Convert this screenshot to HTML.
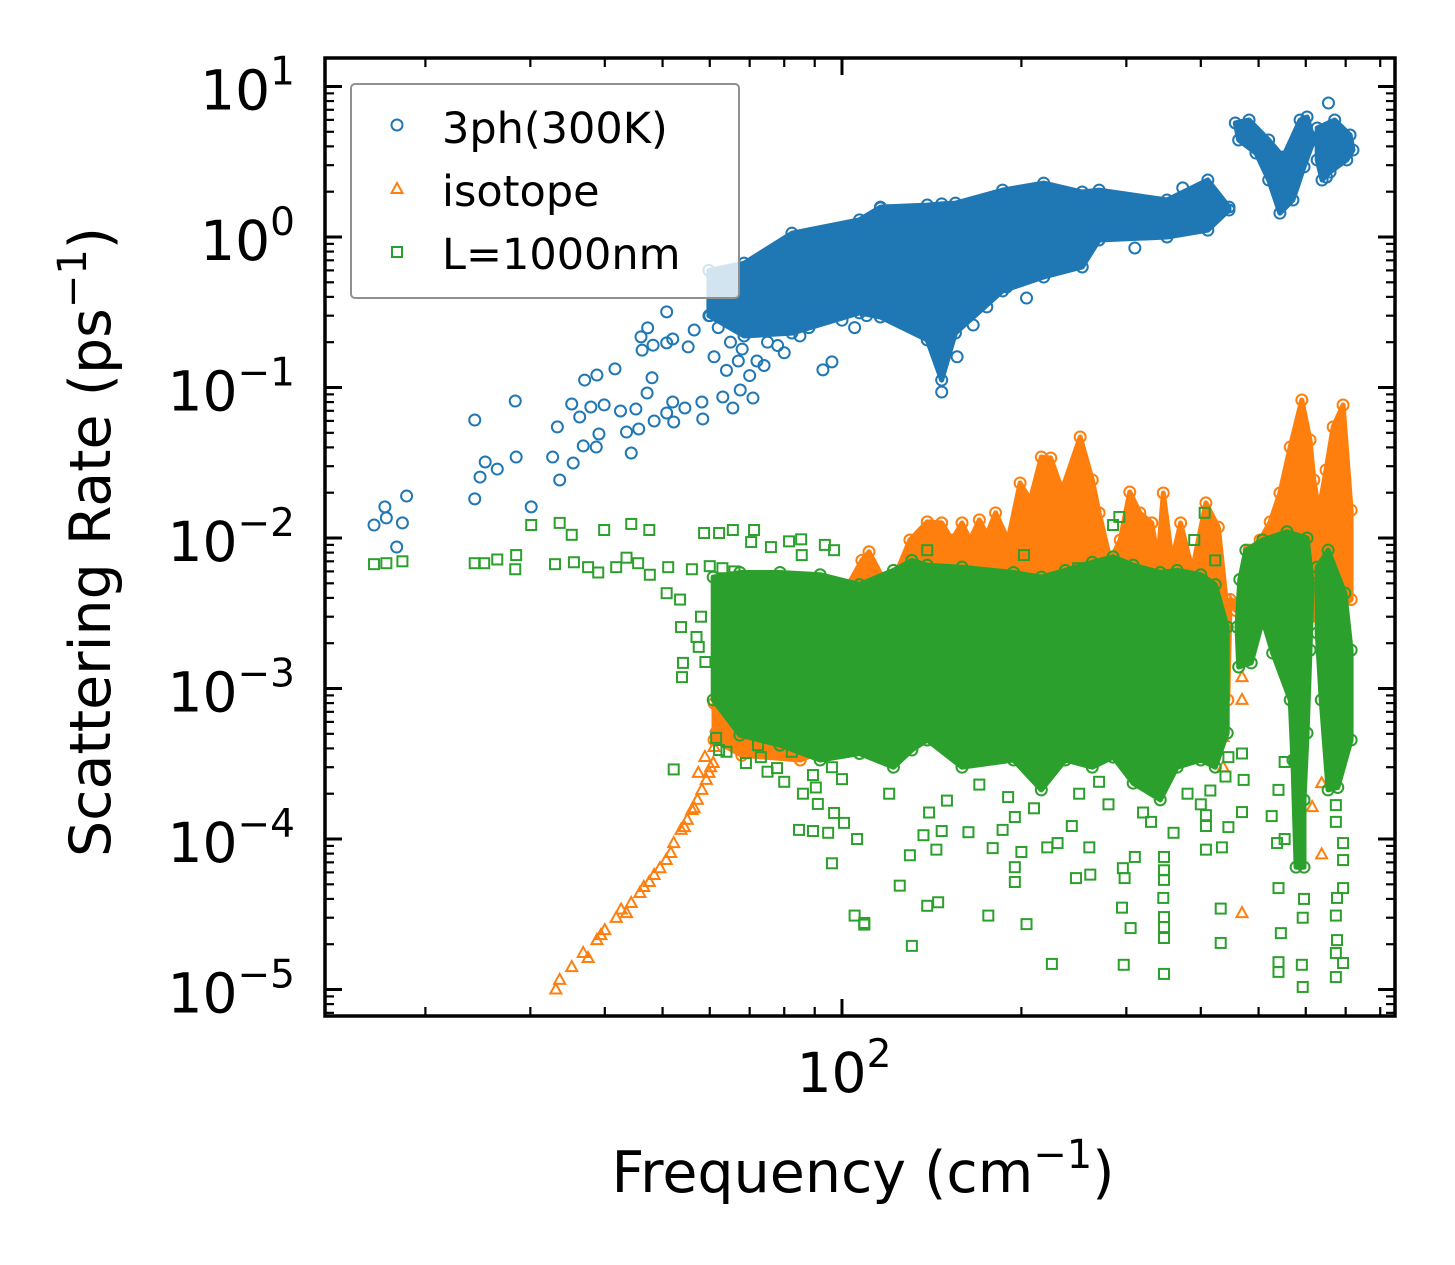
<!DOCTYPE html>
<html><head><meta charset="utf-8">
<style>
html,body{margin:0;padding:0;background:#fff;}
svg{display:block;}
text{font-family:"DejaVu Sans","Liberation Sans",sans-serif;fill:#000;}
</style></head>
<body>
<svg id="chart" width="1455" height="1265" viewBox="0 0 1455 1265" xmlns="http://www.w3.org/2000/svg">
<rect x="0" y="0" width="1455" height="1265" fill="#fff"/>
<g id="data-layer"></g>
<g id="axes-layer"></g>
<g id="legend">
  <rect x="351" y="84" width="388" height="214" rx="4" fill="rgba(255,255,255,0.8)" stroke="#909090" stroke-width="2"/>
  <circle cx="397" cy="125" r="5.5" fill="none" stroke="#1f77b4" stroke-width="2"/>
  <text x="442" y="143" font-size="43">3ph(300K)</text>
  <polygon points="397,183 402.5,193 391.5,193" fill="none" stroke="#ff7f0e" stroke-width="2"/>
  <text x="442" y="206" font-size="43">isotope</text>
  <rect x="392" y="247" width="10" height="10" fill="none" stroke="#2ca02c" stroke-width="2"/>
  <text x="442" y="269" font-size="43">L=1000nm</text>
</g>
<text x="863" y="1192" font-size="57" text-anchor="middle">Frequency (cm<tspan dy="-24" font-size="40">−1</tspan><tspan dy="24">)</tspan></text>
<text transform="translate(110,542) rotate(-90)" font-size="57" text-anchor="middle">Scattering Rate (ps<tspan dy="-24" font-size="40">−1</tspan><tspan dy="24">)</tspan></text>
</svg>
<script>
// ---- data ----
const xDomain = [13.57, 847];
const yDomain = [6.67e-6, 15.46];
const yTickExps = [1, 0, -1, -2, -3, -4, -5];
const xTickExps = [2];

// 3-phonon dense region envelope
const phBandFreq = [59.8, 68.5, 82.4, 107, 116, 139, 147, 155, 186, 218, 253, 270, 351, 411, 446];
const phBandHi = [0.60, 0.67, 1.06, 1.30, 1.58, 1.63, 1.66, 1.68, 2.05, 2.28, 1.99, 2.05, 1.76, 2.39, 1.58];
const phBandLo = [0.30, 0.22, 0.23, 0.313, 0.294, 0.207, 0.112, 0.230, 0.438, 0.542, 0.632, 0.955, 1.0, 1.11, 1.51];
// optical clusters
const phClusterAFreq = [457, 482, 520, 550, 587, 603, 619, 596, 571, 543, 520, 495, 463];
const phClusterARate = [5.72, 5.99, 4.41, 3.40, 5.99, 6.27, 4.41, 2.92, 1.76, 1.44, 2.39, 3.61, 4.41];
const phClusterBFreq = [627, 671, 712, 720, 703, 659, 639, 627];
const phClusterBRate = [5.30, 5.99, 4.76, 3.78, 3.25, 2.70, 2.39, 3.25];
// individual 3ph points
const phFreq = [16.4,17.2,17.1,18.3,18.6,17.9,24.2,24.7,25.2,26.4,24.2,28.3,28.4,30.1,32.7,33.6,33.3,35.4,36.8,38.7,39.1,35.2,36.3,37.9,39.9,42.5,43.5,44.3,45.1,45.6,48.4,37.0,38.8,41.6,46.0,47.2,46.2,48.2,47.1,48.0,50.8,52.0,52.2,54.5,58.2,58.4,50.8,52.0,50.8,55.2,56.5,65.6,70.9,63.1,92.9,96.2,67.5,147,156,166,175,189,204,310,373,136,143,116,655,650,60,62,65,68,72,75,80,85,88,90,100,105,110,61,64,67,70,74,78];
const phRate = [0.0122,0.0136,0.0161,0.0126,0.0190,0.00871,0.0182,0.0254,0.0320,0.0287,0.0608,0.0813,0.0345,0.0161,0.0345,0.0243,0.0547,0.0315,0.0409,0.0402,0.0491,0.0777,0.0637,0.0742,0.0766,0.0698,0.0506,0.0367,0.0719,0.0530,0.0599,0.112,0.121,0.133,0.217,0.249,0.177,0.191,0.0919,0.116,0.0677,0.0801,0.0590,0.0731,0.0801,0.0618,0.198,0.210,0.318,0.186,0.241,0.0731,0.0851,0.0865,0.131,0.148,0.0962,0.0933,0.160,0.260,0.343,0.465,0.393,0.845,2.12,1.16,1.40,1.56,7.77,2.5,0.30,0.25,0.20,0.18,0.15,0.20,0.17,0.22,0.25,0.30,0.28,0.25,0.30,0.16,0.13,0.15,0.12,0.14,0.19];

// isotope
const isoCurveFreq = [33.1,33.6,35.2,36.8,37.5,38.8,40.0,41.8,43.5,44.3,45.8,47.5,48.4,50.7,51.6,52.2,53.7,55.0,56.0,57.2,58.2,59.2,59.8,60.8,57.4,58.9,61.0,61.5,62.7,54.4,56.5,60.2,49.5,46.5,42.6,39.4];
const isoCurveRate = [1.0e-5,1.16e-5,1.41e-5,1.75e-5,1.62e-5,2.13e-5,2.48e-5,2.99e-5,3.22e-5,3.76e-5,4.38e-5,5.18e-5,5.77e-5,7.25e-5,8.07e-5,9.4e-5,1.15e-4,1.34e-4,1.56e-4,1.82e-4,2.12e-4,2.47e-4,2.75e-4,3.2e-4,2.75e-4,3.51e-4,4.09e-4,5.55e-4,8.39e-4,1.2e-4,1.6e-4,3.0e-4,6.4e-5,4.8e-5,3.4e-5,2.3e-5];
const isoTopFreq = [61.0,67.4,85.1,99.2,108,111,120,130,139,147,153,159,164,170,175,181,190,199,207,216,224,234,251,263,270,282,293,304,316,331,339,346,358,370,387,408,428,441,458,482,503,523,543,565,591,610,619,631,649,667,693,715];
const isoTopRate = [8.0e-4,7.8e-4,8.4e-4,3.9e-3,7.1e-3,8.1e-3,4.5e-3,9.7e-3,1.28e-2,1.26e-2,9.7e-3,1.26e-2,9.7e-3,1.32e-2,1.05e-2,1.47e-2,9.7e-3,2.32e-2,1.79e-2,3.45e-2,3.4e-2,2.08e-2,4.69e-2,2.43e-2,1.47e-2,7.1e-3,9.7e-3,2.02e-2,1.47e-2,1.26e-2,7.1e-3,1.99e-2,7.1e-3,1.26e-2,6.1e-3,1.71e-2,1.18e-2,3.9e-3,3.3e-3,8.3e-3,9.7e-3,1.28e-2,1.99e-2,4.02e-2,8.26e-2,4.48e-2,2.43e-2,1.53e-2,2.83e-2,5.47e-2,7.65e-2,1.53e-2];
const isoBotFreq = [715,649,587,448,444,271,125,85.1,67.9,61.0];
const isoBotRate = [3.9e-3,2.85e-3,2.85e-3,3.9e-3,8.4e-4,6.2e-4,6.2e-4,3.35e-4,3.6e-4,4.55e-4];
const isoFreq = [469,436,436,469,638,638,615,701,701,701,469];
const isoRate = [1.19e-3,4.76e-4,3.0e-4,3.22e-5,7.9e-5,2.35e-4,1.63e-4,5.0e-3,6.8e-3,1.16e-2,8.4e-4];

// boundary L=1000nm
const bdBandFreq = [60.8,67.4,78.7,91.9,107,122,131,139,159,194,216,237,263,285,308,342,365,400,423,443];
const bdBandHi = [5.5e-3,5.9e-3,5.9e-3,5.7e-3,4.9e-3,6.1e-3,7.1e-3,6.6e-3,6.4e-3,5.9e-3,5.5e-3,6.1e-3,6.9e-3,7.5e-3,6.6e-3,5.9e-3,6.1e-3,5.7e-3,4.9e-3,2.56e-3];
const bdBandLo = [8.4e-4,4.9e-4,4.2e-4,3.35e-4,3.7e-4,3.0e-4,3.9e-4,4.55e-4,3.0e-4,3.35e-4,2.12e-4,3.35e-4,3.0e-4,3.5e-4,2.35e-4,1.82e-4,3.0e-4,3.35e-4,3.0e-4,5.06e-4];
const bdClusterAFreq = [460,465,476,508,558,603,615,610,603,596,596,578,571,565,528,508,486,463];
const bdClusterARate = [2.56e-3,5.3e-3,8.3e-3,9.7e-3,1.1e-2,1.0e-2,5.0e-3,1.8e-3,5.06e-4,1.82e-4,6.5e-5,6.5e-5,3.35e-4,8.4e-4,1.72e-3,2.85e-3,1.48e-3,1.39e-3];
const bdClusterBFreq = [627,654,698,715,715,679,654,637,627];
const bdClusterBRate = [6.4e-3,8.3e-3,4.3e-3,1.8e-3,4.55e-4,2.2e-4,2.12e-4,8.4e-4,2.34e-3];
const bdFreq = [16.4,17.2,18.3,24.2,25.1,26.4,28.4,28.3,30.1,33.0,33.6,35.2,35.5,37.5,39.0,39.9,41.8,43.5,44.3,47.5,45.5,47.6,51.1,50.8,53.5,53.7,54.1,53.9,52.2,58.7,62.2,65.6,71.2,70.4,76.0,81.5,85.4,93.6,97.0,85.6,57.5,61.5,62.2,72.3,73.1,77.8,82.4,89.4,90.4,96.2,91.1,97.0,100.8,84.7,89.4,94.8,96.2,106,105,109,60,63,66,56,
109,125,131,139,145,130,144,147,137,163,176,179,195,195,204,195,186,200,221,230,225,247,261,260,243,295,305,297,296,298,310,347,347,347,346,347,347,347,347,408,408,408,434,432,432,469,472,469,526,540,537,540,545,540,540,553,596,593,591,593,674,674,693,693,693,677,674,677,674,693,674,553,406,292,285,390,249,121,139,202,423,
120,150,170,210,250,280,320,380,415,100,140,190,270,330,360,400,440,445,445,58,57,59,64,69,75,80,86];
const bdRate = [6.7e-3,6.8e-3,7.0e-3,6.8e-3,6.8e-3,7.2e-3,7.7e-3,6.2e-3,1.22e-2,6.7e-3,1.26e-2,1.05e-2,6.9e-3,6.4e-3,5.9e-3,1.13e-2,6.4e-3,7.4e-3,1.24e-2,1.13e-2,6.8e-3,5.7e-3,6.4e-3,4.3e-3,3.9e-3,2.56e-3,1.48e-3,1.19e-3,2.9e-4,1.08e-2,1.08e-2,1.13e-2,1.13e-2,9.4e-3,8.7e-3,9.5e-3,9.8e-3,9.0e-3,8.3e-3,7.7e-3,1.89e-3,4.7e-4,3.9e-4,4.2e-4,3.5e-4,2.96e-4,3.8e-4,2.66e-4,2.2e-4,3.0e-4,1.71e-4,1.49e-4,1.28e-4,1.15e-4,1.13e-4,1.1e-4,6.9e-5,1.0e-4,3.1e-5,2.7e-5,6.5e-3,6.3e-3,6.0e-3,6.2e-3,
2.77e-5,4.9e-5,1.95e-5,3.6e-5,3.8e-5,7.8e-5,8.5e-5,1.13e-4,1.06e-4,1.11e-4,3.1e-5,8.7e-5,6.5e-5,5.18e-5,2.72e-5,1.4e-4,1.15e-4,8.2e-5,8.8e-5,9.4e-5,1.48e-5,5.5e-5,5.8e-5,8.8e-5,1.22e-4,3.5e-5,2.56e-5,1.46e-5,6.4e-5,5.5e-5,7.6e-5,7.6e-5,6.2e-5,5.35e-5,4.06e-5,3.03e-5,2.6e-5,2.2e-5,1.27e-5,8.5e-5,1.44e-4,1.22e-4,8.8e-5,3.45e-5,2.04e-5,3.7e-4,2.47e-4,1.51e-4,1.42e-4,2.12e-4,9.4e-5,4.72e-5,2.37e-5,1.52e-5,1.31e-5,3.25e-4,4.0e-5,3.0e-5,1.46e-5,1.04e-5,1.68e-4,1.3e-4,9.4e-5,7.25e-5,4.72e-5,4.06e-5,3.1e-5,2.13e-5,1.75e-5,1.5e-5,1.21e-5,1.0e-4,1.47e-2,1.38e-2,1.22e-2,9.7e-3,6.3e-3,4.9e-3,8.3e-3,7.7e-3,7.1e-3,
2.0e-4,1.8e-4,2.3e-4,1.6e-4,2.0e-4,1.7e-4,1.5e-4,2.0e-4,2.1e-4,2.5e-4,1.5e-4,1.9e-4,2.4e-4,1.3e-4,1.1e-4,1.7e-4,2.6e-4,1.2e-4,3.5e-4,3.0e-3,2.2e-3,1.5e-3,3.8e-4,3.2e-4,2.8e-4,2.4e-4,2.0e-4];

// ---- scales ----
const PX0 = 325, PX1 = 1395, PY0 = 1016, PY1 = 58;
const lx0 = Math.log10(xDomain[0]), lx1 = Math.log10(xDomain[1]);
const ly0 = Math.log10(yDomain[0]), ly1 = Math.log10(yDomain[1]);
function xs(f){ return PX0 + (Math.log10(f) - lx0) / (lx1 - lx0) * (PX1 - PX0); }
function ys(r){ return PY0 - (Math.log10(r) - ly0) / (ly1 - ly0) * (PY0 - PY1); }

const NS = 'http://www.w3.org/2000/svg';
const dataLayer = document.getElementById('data-layer');
const axesLayer = document.getElementById('axes-layer');
function mk(tag, attrs, parent){
  const e = document.createElementNS(NS, tag);
  for (const k in attrs) e.setAttribute(k, attrs[k]);
  parent.appendChild(e);
  return e;
}
const C_BLUE = '#1f77b4', C_ORANGE = '#ff7f0e', C_GREEN = '#2ca02c';

function region(fs, rs, color, name, parent){
  const pts = fs.map((f, i) => xs(f).toFixed(1) + ',' + ys(rs[i]).toFixed(1)).join(' ');
  const p = mk('polygon', {points: pts, fill: color, stroke: color, 'stroke-width': 5, 'stroke-linejoin': 'round'}, parent);
  
  
  fs.forEach((f, i) => {
    const c = mk('circle', {cx: xs(f), cy: ys(rs[i]), r: 5.5, fill: 'none', stroke: color, 'stroke-width': 2}, parent);
    
    
  });
}
function band(fs, hi, lo, color, name, parent){
  const F = fs.concat(fs.slice().reverse());
  const R = hi.concat(lo.slice().reverse());
  region(F, R, color, name, parent);
}

// 3ph series
const gPh = mk('g', {}, dataLayer);


band(phBandFreq, phBandHi, phBandLo, C_BLUE, '3ph-dense-region', gPh);
region(phClusterAFreq, phClusterARate, C_BLUE, '3ph-optical-cluster-a', gPh);
region(phClusterBFreq, phClusterBRate, C_BLUE, '3ph-optical-cluster-b', gPh);
phFreq.forEach((f, i) => {
  const c = mk('circle', {cx: xs(f), cy: ys(phRate[i]), r: 5.5, fill: 'none', stroke: C_BLUE, 'stroke-width': 2}, gPh);
  
  
});

// isotope series
const gIso = mk('g', {}, dataLayer);


region(isoTopFreq.concat(isoBotFreq), isoTopRate.concat(isoBotRate), C_ORANGE, 'isotope-dense-region', gIso);
function tri(f, r, parent){
  const x = xs(f), y = ys(r);
  const t = mk('polygon', {points: `${x},${y-6} ${x+5.5},${y+4} ${x-5.5},${y+4}`, fill: 'none', stroke: C_ORANGE, 'stroke-width': 2}, parent);
  
  
}
isoCurveFreq.forEach((f, i) => tri(f, isoCurveRate[i], gIso));
isoFreq.forEach((f, i) => tri(f, isoRate[i], gIso));

// boundary series
const gBd = mk('g', {}, dataLayer);


band(bdBandFreq, bdBandHi, bdBandLo, C_GREEN, 'boundary-dense-region', gBd);
region(bdClusterAFreq, bdClusterARate, C_GREEN, 'boundary-cluster-a', gBd);
region(bdClusterBFreq, bdClusterBRate, C_GREEN, 'boundary-cluster-b', gBd);
bdFreq.forEach((f, i) => {
  const s = mk('rect', {x: xs(f) - 5, y: ys(bdRate[i]) - 5, width: 10, height: 10, fill: 'none', stroke: C_GREEN, 'stroke-width': 2}, gBd);
  
  
});

// ---- axes ----
const frame = mk('rect', {x: PX0, y: PY1, width: PX1 - PX0, height: PY0 - PY1, fill: 'none', stroke: '#000', 'stroke-width': 3.5}, axesLayer);



function tick(x1, y1, x2, y2, w, name){
  const l = mk('line', {x1, y1, x2, y2, stroke: '#000', 'stroke-width': w}, axesLayer);
  
  
}
for (let e = -6; e <= 1; e++){
  for (let m = 1; m <= 9; m++){
    const v = m * Math.pow(10, e);
    if (v < yDomain[0] || v > yDomain[1]) continue;
    const y = ys(v);
    const L = m === 1 ? 17 : 9, w = m === 1 ? 3 : 2.2;
    tick(PX0, y, PX0 + L, y, w, m === 1 ? 'y-major-tick' : 'y-minor-tick');
    tick(PX1, y, PX1 - L, y, w, m === 1 ? 'y-major-tick-right' : 'y-minor-tick-right');
  }
}
for (let e = 1; e <= 2; e++){
  for (let m = 1; m <= 9; m++){
    const v = m * Math.pow(10, e);
    if (v < xDomain[0] || v > xDomain[1]) continue;
    const x = xs(v);
    const L = m === 1 ? 17 : 9, w = m === 1 ? 3 : 2.2;
    tick(x, PY0, x, PY0 - L, w, m === 1 ? 'x-major-tick' : 'x-minor-tick');
    tick(x, PY1, x, PY1 + L, w, m === 1 ? 'x-major-tick-top' : 'x-minor-tick-top');
  }
}
yTickExps.forEach(e => {
  const y = ys(Math.pow(10, e));
  const t = mk('text', {x: 295, y: y + 23, 'font-size': 55, 'text-anchor': 'end'}, axesLayer);
  
  
  t.appendChild(document.createTextNode('10'));
  const s = mk('tspan', {dy: -25, 'font-size': 39}, t);
  s.textContent = e < 0 ? '−' + (-e) : String(e);
});
xTickExps.forEach(e => {
  const x = xs(Math.pow(10, e));
  const t = mk('text', {x: x + 2, y: 1092, 'font-size': 55, 'text-anchor': 'middle'}, axesLayer);
  
  
  t.appendChild(document.createTextNode('10'));
  const s = mk('tspan', {dy: -25, 'font-size': 39}, t);
  s.textContent = String(e);
});
</script>
</body></html>
